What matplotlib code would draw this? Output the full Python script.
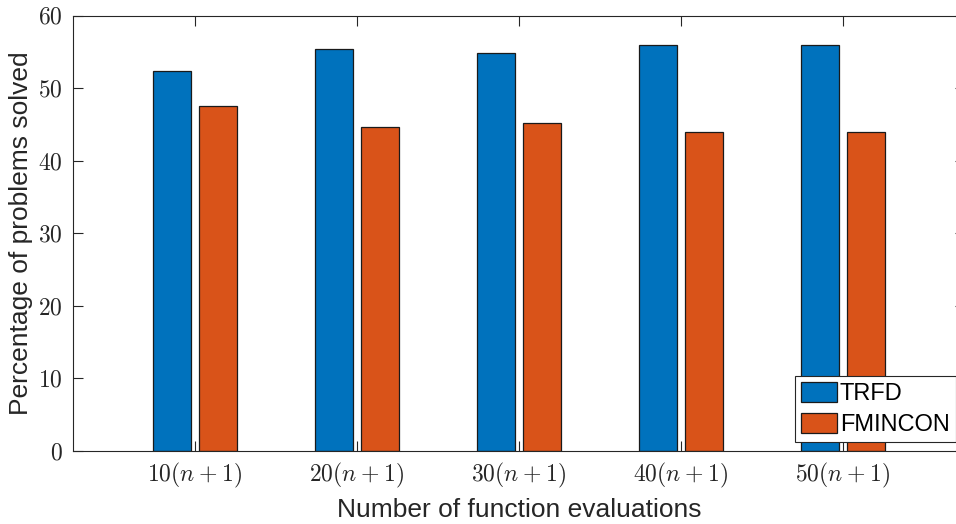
import matplotlib
matplotlib.use("Agg")
import matplotlib.pyplot as plt
import numpy as np

categories = [r"$10(n\:+\:1)$", r"$20(n\:+\:1)$", r"$30(n\:+\:1)$", r"$40(n\:+\:1)$", r"$50(n\:+\:1)$"]
trfd = [52.4, 55.4, 54.8, 56.0, 56.0]
fmincon = [47.6, 44.6, 45.2, 44.0, 44.0]
yticks = [0, 10, 20, 30, 40, 50, 60]

plt.rcParams['mathtext.fontset'] = 'cm'
plt.rcParams['font.family'] = ['Liberation Sans', 'DejaVu Sans']

W, H = 956, 524
fig = plt.figure(figsize=(W / 100, H / 100), dpi=100)
left, right, top, bottom = 72.7, 965.3, 15.5, 451
ax = fig.add_axes([left / W, 1 - bottom / H, (right - left) / W, (bottom - top) / H])

x = np.arange(1, len(categories) + 1)
w = 0.232
off = 0.143
ax.bar(x - off, trfd, w, color='#0072BD', edgecolor='#1a1a1a', linewidth=0.9, label='TRFD')
ax.bar(x + off, fmincon, w, color='#D95319', edgecolor='#1a1a1a', linewidth=0.9, label='FMINCON')

ax.set_xlim(0.245, 5.755)
ax.set_ylim(0, 60)
ax.set_xticks(x)
ax.set_xticklabels(categories, fontsize=17)
ax.set_yticks(yticks)
ax.set_yticklabels([rf"${v}$" for v in yticks], fontsize=17)
ax.tick_params(direction='in', length=7, width=0.8, top=True, right=True, colors='#262626', labelcolor='#262626', pad=7)
for s in ax.spines.values():
    s.set_color('#262626')
    s.set_linewidth(0.8)

ax.set_xlabel('Number of function evaluations', fontsize=19, color='#262626', labelpad=6)
ax.set_ylabel('Percentage of problems solved', fontsize=19, color='#262626', labelpad=4)

leg = ax.legend(loc='lower right', bbox_to_anchor=(955.5 / W, 1 - 442 / H), bbox_transform=fig.transFigure,
                fontsize=17, frameon=True, fancybox=False,
                edgecolor='#262626', framealpha=1, borderaxespad=0,
                handlelength=1.55, handleheight=0.9, handletextpad=0.1, labelspacing=0.35,
                borderpad=0.25)
leg.get_frame().set_linewidth(0.8)

fig.savefig('out.png', dpi=100)
